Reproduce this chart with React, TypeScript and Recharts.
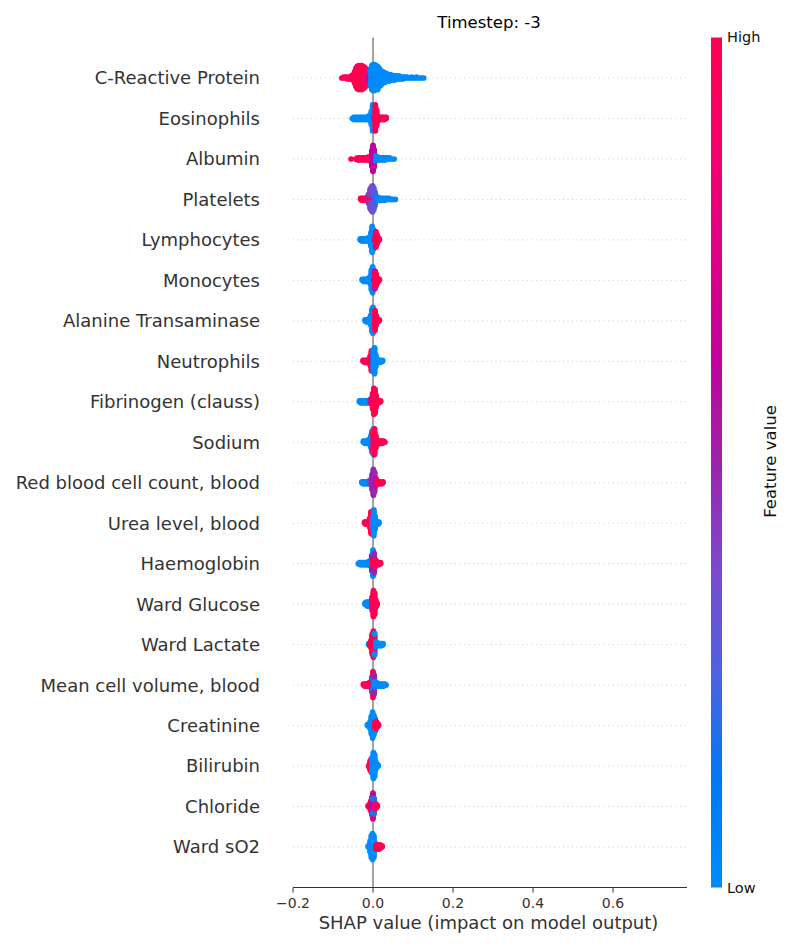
import { ScatterChart, Scatter, XAxis, YAxis, ReferenceLine } from 'recharts'

// [shap value, number of points, feature value (0 = low, 1 = high)]
type Bin = [number, number, number]

const features = [
  'C-Reactive Protein',
  'Eosinophils',
  'Albumin',
  'Platelets',
  'Lymphocytes',
  'Monocytes',
  'Alanine Transaminase',
  'Neutrophils',
  'Fibrinogen (clauss)',
  'Sodium',
  'Red blood cell count, blood',
  'Urea level, blood',
  'Haemoglobin',
  'Ward Glucose',
  'Ward Lactate',
  'Mean cell volume, blood',
  'Creatinine',
  'Bilirubin',
  'Chloride',
  'Ward sO2',
]

const crp: Bin[] = [
  [-0.078, 1, 1], [-0.073, 2, 1], [-0.068, 2, 1], [-0.063, 3, 1], [-0.058, 3, 1], [-0.054, 4, 1],
  [-0.05, 6, 1], [-0.046, 12, 1], [-0.043, 18, 1], [-0.04, 22, 1], [-0.036, 24, 1], [-0.032, 24, 1],
  [-0.028, 24, 1], [-0.024, 22, 1], [-0.02, 20, 1], [-0.017, 14, 1], [-0.014, 6, 0.85], [-0.01, 5, 0.6],
  [-0.006, 4, 0.55], [-0.006, 14, 0], [-0.003, 24, 0], [0, 26, 0], [0.004, 4, 0.4], [0.004, 22, 0],
  [0.008, 24, 0], [0.012, 3, 0.45], [0.012, 20, 0], [0.016, 18, 0], [0.02, 2, 0.4], [0.02, 13, 0],
  [0.025, 12, 0], [0.03, 10, 0], [0.035, 8, 0], [0.04, 7, 0], [0.045, 2, 0.35], [0.045, 4, 0],
  [0.05, 5, 0], [0.055, 5, 0], [0.06, 4, 0], [0.065, 4, 0], [0.07, 3, 0], [0.075, 3, 0], [0.08, 2, 0],
  [0.085, 2, 0], [0.091, 1, 0], [0.097, 2, 0], [0.103, 1, 0], [0.109, 2, 0], [0.115, 1, 0],
  [0.121, 1, 0], [0.127, 1, 0],
]
const eosinophils: Bin[] = [
  [-0.052, 1, 0], [-0.048, 3, 0], [-0.044, 3, 0], [-0.04, 3, 0], [-0.036, 3, 0], [-0.032, 3, 0],
  [-0.028, 3, 0], [-0.024, 3, 0], [-0.02, 3, 0], [-0.016, 3, 0], [-0.012, 4, 0], [-0.008, 6, 0],
  [-0.004, 14, 0], [-0.001, 26, 0], [0.002, 8, 0.9], [0.002, 6, 0], [0.006, 26, 1], [0.009, 16, 1],
  [0.013, 5, 1], [0.017, 3, 1], [0.021, 3, 1], [0.025, 3, 1], [0.029, 3, 1], [0.033, 2, 1],
]
const albumin: Bin[] = [
  [-0.055, 1, 1], [-0.043, 1, 1], [-0.039, 3, 1], [-0.035, 3, 1], [-0.031, 3, 1], [-0.027, 3, 1],
  [-0.023, 3, 1], [-0.019, 3, 1], [-0.015, 3, 1], [-0.011, 4, 1], [-0.007, 5, 0.9], [-0.003, 16, 0.65],
  [0, 26, 0.62], [0.003, 18, 0.6], [0.007, 3, 0.4], [0.007, 3, 0], [0.011, 4, 0], [0.015, 3, 0],
  [0.019, 3, 0], [0.023, 3, 0], [0.027, 3, 0], [0.031, 3, 0], [0.036, 2, 0], [0.041, 2, 0],
  [0.047, 1, 0], [0.053, 1, 0],
]
const platelets: Bin[] = [
  [-0.031, 2, 1], [-0.027, 3, 1], [-0.023, 3, 1], [-0.019, 3, 1], [-0.015, 4, 1], [-0.011, 4, 1],
  [-0.011, 6, 0.45], [-0.007, 6, 1], [-0.007, 14, 0.4], [-0.004, 4, 1], [-0.004, 20, 0.35],
  [-0.001, 6, 0.8], [-0.001, 20, 0.35], [0.002, 4, 1], [0.002, 18, 0.3], [0.005, 14, 0.3],
  [0.008, 6, 0.15], [0.012, 4, 0], [0.016, 3, 0], [0.02, 3, 0], [0.024, 3, 0], [0.029, 3, 0],
  [0.034, 2, 0], [0.04, 2, 0], [0.045, 1, 0], [0.05, 1, 0], [0.056, 1, 0],
]
const lymphocytes: Bin[] = [
  [-0.032, 2, 0], [-0.028, 3, 0], [-0.024, 3, 0], [-0.02, 3, 0], [-0.016, 3, 0], [-0.012, 4, 0],
  [-0.008, 6, 0], [-0.005, 14, 0], [-0.002, 26, 0], [0.001, 20, 0], [0.004, 8, 1], [0.004, 4, 0],
  [0.007, 16, 1], [0.01, 10, 1], [0.013, 4, 1], [0.016, 2, 1],
]
const monocytes: Bin[] = [
  [-0.027, 2, 0], [-0.023, 3, 0], [-0.019, 3, 0], [-0.015, 3, 0], [-0.011, 4, 0], [-0.007, 8, 0],
  [-0.004, 20, 0], [-0.001, 26, 0], [0.002, 6, 0.8], [0.002, 8, 0], [0.005, 14, 1], [0.005, 4, 0.7],
  [0.008, 12, 1], [0.012, 5, 1], [0.016, 2, 1],
]
const alanineTransaminase: Bin[] = [
  [-0.02, 2, 0], [-0.017, 3, 0], [-0.013, 3, 0], [-0.01, 4, 0], [-0.006, 10, 0], [-0.003, 22, 0],
  [0, 26, 0], [0.003, 12, 0], [0.005, 20, 1], [0.008, 10, 1], [0.012, 4, 1], [0.016, 2, 1],
]
const neutrophils: Bin[] = [
  [-0.025, 2, 1], [-0.021, 3, 1], [-0.017, 3, 1], [-0.013, 3, 1], [-0.01, 4, 1], [-0.007, 10, 1],
  [-0.004, 20, 1], [-0.001, 6, 0.6], [0.001, 22, 0], [0.004, 26, 0], [0.007, 12, 0], [0.011, 4, 0],
  [0.015, 3, 0], [0.019, 3, 0], [0.024, 2, 0],
]
const fibrinogen: Bin[] = [
  [-0.034, 2, 0], [-0.031, 3, 0], [-0.027, 3, 0], [-0.023, 3, 0], [-0.019, 3, 0], [-0.015, 3, 0],
  [-0.011, 3, 0], [-0.008, 4, 0.4], [-0.004, 6, 0.6], [-0.001, 16, 1], [0.002, 26, 1], [0.005, 24, 1],
  [0.008, 12, 1], [0.011, 4, 1], [0.015, 3, 1], [0.019, 2, 1],
]
const sodium: Bin[] = [
  [-0.024, 2, 0], [-0.02, 3, 0], [-0.016, 3, 0], [-0.012, 4, 0], [-0.008, 6, 0], [-0.005, 12, 0],
  [-0.002, 14, 0], [-0.002, 6, 0.85], [0.001, 18, 0.95], [0.001, 6, 0], [0.004, 24, 1], [0.007, 12, 1],
  [0.011, 5, 1], [0.015, 3, 1], [0.019, 3, 1], [0.023, 3, 1], [0.027, 2, 1], [0.03, 1, 1],
]
const redBloodCells: Bin[] = [
  [-0.028, 2, 0], [-0.025, 3, 0], [-0.021, 3, 0], [-0.017, 3, 0], [-0.013, 3, 0], [-0.009, 4, 0.2],
  [-0.005, 6, 0.4], [-0.002, 16, 0.5], [0.001, 26, 0.5], [0.004, 20, 0.48], [0.007, 8, 0.7],
  [0.01, 4, 0.85], [0.014, 3, 1], [0.018, 3, 1], [0.022, 3, 1], [0.025, 2, 1],
]
const urea: Bin[] = [
  [-0.021, 2, 1], [-0.018, 3, 1], [-0.015, 3, 1], [-0.012, 4, 1], [-0.008, 10, 1], [-0.005, 22, 1],
  [-0.002, 10, 0.3], [0.002, 26, 0], [0.005, 14, 0], [0.008, 4, 0], [0.012, 3, 0], [0.015, 2, 0],
]
const haemoglobin: Bin[] = [
  [-0.037, 1, 0], [-0.034, 2, 0], [-0.031, 3, 0], [-0.027, 3, 0], [-0.023, 3, 0], [-0.019, 3, 0],
  [-0.015, 3, 0], [-0.011, 4, 0], [-0.007, 6, 0], [-0.003, 8, 0], [-0.003, 8, 0.55], [0, 10, 1],
  [0, 8, 0.55], [0, 8, 0], [0.003, 12, 1], [0.003, 8, 0.5], [0.006, 8, 1], [0.01, 4, 1],
  [0.014, 3, 1], [0.019, 2, 1],
]
const wardGlucose: Bin[] = [
  [-0.02, 2, 0], [-0.017, 4, 0], [-0.013, 5, 0], [-0.009, 5, 0], [-0.006, 6, 0], [-0.002, 14, 1],
  [0.001, 26, 1], [0.004, 22, 1], [0.007, 8, 1], [0.01, 3, 1],
]
const wardLactate: Bin[] = [
  [-0.011, 2, 0], [-0.008, 3, 1], [-0.005, 8, 1], [-0.002, 20, 1], [0.001, 26, 1], [0.004, 18, 1],
  [0.004, 4, 0], [0.007, 6, 0], [0.01, 4, 0], [0.014, 3, 0], [0.018, 3, 0], [0.021, 3, 0],
  [0.025, 2, 0],
]
const meanCellVolume: Bin[] = [
  [-0.024, 2, 1], [-0.02, 3, 1], [-0.017, 3, 1], [-0.013, 3, 1], [-0.01, 4, 1], [-0.006, 6, 1],
  [-0.003, 8, 1], [-0.003, 6, 0.55], [0, 8, 0.55], [0, 8, 0], [0, 8, 1], [0.003, 10, 0],
  [0.003, 8, 0.5], [0.006, 6, 0], [0.01, 4, 0], [0.014, 3, 0], [0.018, 3, 0], [0.022, 3, 0],
  [0.026, 3, 0], [0.03, 2, 0], [0.033, 1, 0],
]
const creatinine: Bin[] = [
  [-0.014, 2, 0], [-0.01, 3, 0], [-0.007, 8, 0], [-0.004, 18, 0], [-0.001, 26, 0], [0.002, 20, 0],
  [0.005, 10, 1], [0.005, 4, 0], [0.008, 8, 1], [0.011, 4, 1], [0.014, 2, 1],
]
const bilirubin: Bin[] = [
  [-0.01, 3, 1], [-0.007, 10, 1], [-0.004, 14, 1], [-0.002, 16, 0], [0.001, 26, 0], [0.004, 22, 0],
  [0.007, 8, 0], [0.01, 4, 0], [0.013, 2, 0],
]
const chloride: Bin[] = [
  [-0.012, 2, 1], [-0.009, 4, 1], [-0.006, 6, 0.7], [-0.006, 4, 1], [-0.003, 10, 0.6], [-0.003, 8, 1],
  [0, 12, 0.55], [0, 8, 0], [0, 6, 0.7], [0.003, 10, 0.55], [0.003, 6, 0.2], [0.006, 6, 1],
  [0.009, 4, 0.9], [0.011, 2, 1],
]
const wardSO2: Bin[] = [
  [-0.012, 2, 0], [-0.009, 4, 0], [-0.007, 12, 0], [-0.004, 22, 0], [-0.001, 26, 0], [0.002, 22, 0],
  [0.005, 8, 0], [0.007, 5, 1], [0.01, 5, 1], [0.013, 5, 1], [0.016, 5, 1], [0.019, 4, 1], [0.023, 2, 1],
]

const rows = [
  crp, eosinophils, albumin, platelets, lymphocytes, monocytes, alanineTransaminase, neutrophils,
  fibrinogen, sodium, redBloodCells, urea, haemoglobin, wardGlucose, wardLactate, meanCellVolume,
  creatinine, bilirubin, chloride, wardSO2,
]

const xTicks = [-0.2, 0, 0.2, 0.4, 0.6]

// shap red_blue colour map, low -> high
const colorStops: [number, number[]][] = [
  [0, [0, 139, 251]],
  [0.125, [0, 120, 243]],
  [0.25, [75, 99, 227]],
  [0.375, [125, 73, 204]],
  [0.5, [155, 36, 173]],
  [0.625, [194, 0, 156]],
  [0.75, [224, 0, 134]],
  [0.875, [245, 0, 108]],
  [1, [255, 0, 81]],
]

function cmap(v: number) {
  for (let i = 1; i < colorStops.length; i++) {
    const [p1, c1] = colorStops[i]
    const [p0, c0] = colorStops[i - 1]
    if (v <= p1) {
      const t = (v - p0) / (p1 - p0)
      const c = c0.map((a, k) => Math.round(a + (c1[k] - a) * t))
      return `rgb(${c[0]},${c[1]},${c[2]})`
    }
  }
  return 'rgb(255,0,81)'
}

// beeswarm stacking like shap: points sharing a bin alternate up / down
function buildPoints() {
  const pts: { x: number; y: number; fv: number }[] = []
  rows.forEach((bins, i) => {
    const pos = features.length - 1 - i
    const layers = new Map<number, number>()
    const raw: { x: number; off: number; fv: number }[] = []
    bins.forEach(([x, n, fv]) => {
      for (let k = 0; k < n; k++) {
        const layer = layers.get(x) ?? 0
        raw.push({ x, off: Math.ceil(layer / 2) * ((layer % 2) * 2 - 1), fv })
        layers.set(x, layer + 1)
      }
    })
    const maxOff = Math.max(...raw.map((r) => r.off))
    const scale = (0.9 * 0.4) / (maxOff + 1)
    raw.forEach((r) => pts.push({ x: r.x, y: pos + r.off * scale, fv: r.fv }))
  })
  return pts
}

const points = buildPoints()
const rowTicks = features.map((_, i) => i)

function formatTick(v: number) {
  return v < 0 ? `\u2212${Math.abs(v).toFixed(1)}` : v.toFixed(1)
}

const Dot = (props: any) => (
  <circle cx={props.cx} cy={props.cy} r={2.8} fill={cmap(props.payload.fv)} />
)

const font = 'DejaVu Sans, sans-serif'

export default function App() {
  return (
    <div style={{ position: 'absolute', left: 0, top: 0, width: 800, height: 950, fontFamily: font }}>
      <ScatterChart
        width={800}
        height={950}
        margin={{ top: 37.5, right: 113, bottom: 12.5, left: 0 }}
        style={{ fontFamily: font }}
      >
        {rowTicks.map((t) => (
          <ReferenceLine key={t} y={t} stroke="#cccccc" strokeWidth={1} strokeDasharray="1 3.5" />
        ))}
        <XAxis
          type="number"
          dataKey="x"
          domain={[-0.2, 0.785]}
          ticks={xTicks}
          allowDataOverflow
          tickFormatter={formatTick}
          tick={{ fontSize: 14, fill: '#333333' }}
          axisLine={{ stroke: '#333333' }}
          tickLine={{ stroke: '#333333' }}
          tickSize={5}
          tickMargin={5.5}
          height={50}
        />
        <YAxis
          type="number"
          dataKey="y"
          domain={[-1, 20]}
          ticks={rowTicks}
          interval={0}
          width={293}
          axisLine={false}
          tickLine={false}
          tickSize={0}
          tickMargin={33}
          tickFormatter={(v: number) => features[features.length - 1 - v]}
          tick={{ fontSize: 18, fill: '#333333' }}
        />
        <ReferenceLine x={0} stroke="#999999" strokeWidth={1.8} />
        <Scatter data={points} shape={Dot} isAnimationActive={false} />
      </ScatterChart>
      <svg
        width={800}
        height={950}
        style={{ position: 'absolute', left: 0, top: 0, pointerEvents: 'none', fontFamily: font }}
      >
        <defs>
          <linearGradient id="cbar" x1="0" y1="0" x2="0" y2="1">
            {colorStops.map(([p]) => (
              <stop key={p} offset={1 - p} stopColor={cmap(p)} />
            )).reverse()}
          </linearGradient>
        </defs>
        <text x={489} y={28} textAnchor="middle" fontSize={16.5} fill="#000">
          Timestep: -3
        </text>
        <text x={488.5} y={929} textAnchor="middle" fontSize={18} fill="#333333">
          SHAP value (impact on model output)
        </text>
        <rect x={711} y={37.5} width={11} height={850} fill="url(#cbar)" />
        <text x={727} y={42} fontSize={14.5} fill="#111">High</text>
        <text x={727} y={892.5} fontSize={14.5} fill="#111">Low</text>
        <text
          x={776}
          y={461.5}
          textAnchor="middle"
          fontSize={16.5}
          fill="#111"
          transform="rotate(-90, 776, 461.5)"
        >
          Feature value
        </text>
      </svg>
    </div>
  )
}
